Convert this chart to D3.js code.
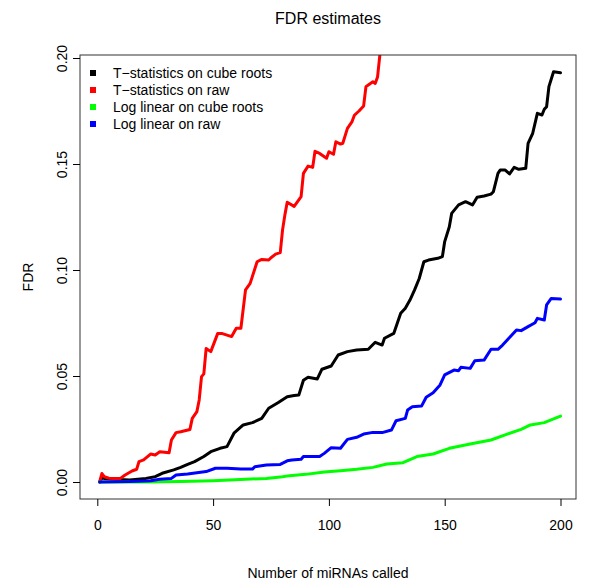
<!DOCTYPE html>
<html>
<head>
<meta charset="utf-8">
<script src="https://cdn.jsdelivr.net/npm/d3@7"></script>
<style>
  html, body { margin: 0; padding: 0; background: #fff; }
  svg text { font-family: "Liberation Sans", Arial, Helvetica, sans-serif; fill: #000; }
</style>
</head>
<body>
<svg id="chart" width="600" height="582"></svg>
<script>
// ---- data ----
const seriesNames = ["T\u2212statistics on cube roots", "T\u2212statistics on raw", "Log linear on cube roots", "Log linear on raw"];
const seriesColors = ["#000000", "#ff0000", "#00ff00", "#0000ff"];

const tCubeX = [1,2,3,7,14,21,25,28,33,36,39,42,46,49,53,56,59,63,67,71,74,78,82,85,87,89,91,95,97,101,104,108,112,117,120,123,124,128,131,133,135,137,139,141,143,147,149,150,152,153,156,159,162,164,167,170,171,173,174,176,178,180,182,185,186,188,190,192,193,194,195,197,200];
const tCubeY = [0,0.002,0.0017,0.0013,0.0009,0.0017,0.0025,0.0041,0.0057,0.0069,0.0083,0.0096,0.012,0.0143,0.0159,0.0167,0.023,0.0269,0.028,0.030,0.0348,0.0374,0.0402,0.0408,0.041,0.048,0.0494,0.0486,0.0532,0.0547,0.0599,0.0615,0.0623,0.0626,0.0659,0.0646,0.0678,0.0701,0.0796,0.082,0.0858,0.0906,0.096,0.1039,0.1047,0.1055,0.1063,0.1134,0.1204,0.1267,0.1307,0.1322,0.1307,0.1343,0.1349,0.1358,0.1369,0.1456,0.1472,0.1472,0.1453,0.1484,0.1475,0.148,0.1597,0.1645,0.1739,0.1731,0.1758,0.177,0.1865,0.1935,0.193];

const tRawX = [1,2,3,5,7,10,12,15,17,18,20,23,25,27,31,32,34,36,40,41,43,44,45,46,47,49,52,54,58,60,62,64,66,69,71,74,75,77,79,80,81,82,85,88,89,91,93,94,96,99,100,102,103,105,106,108,110,111,113,115,116,117,119,120,121,122,124,126];
const tRawY = [0,0.004,0.0025,0.0018,0.0017,0.0017,0.0033,0.0052,0.006,0.0096,0.0104,0.0132,0.0127,0.0143,0.0138,0.0198,0.0233,0.0237,0.0248,0.030,0.0332,0.0387,0.0497,0.051,0.063,0.0615,0.0701,0.070,0.0686,0.0725,0.0725,0.0906,0.0937,0.1039,0.105,0.1047,0.1058,0.1075,0.1082,0.119,0.126,0.132,0.130,0.1346,0.1456,0.149,0.1484,0.156,0.155,0.1527,0.1558,0.1546,0.1605,0.1594,0.1598,0.1668,0.170,0.173,0.175,0.1774,0.1865,0.1873,0.1888,0.188,0.191,0.2014,0.208,0.212];

const llCubeX = [1,21,36,50,64,73,80,83,90,98,105,112,119,125,132,138,145,152,161,170,177,183,187,193,200];
const llCubeY = [0,0,0.0002,0.0006,0.0013,0.0017,0.0025,0.003,0.0036,0.0047,0.0053,0.006,0.0069,0.0085,0.0091,0.012,0.0132,0.0159,0.0179,0.0198,0.0226,0.0248,0.0269,0.028,0.0311];

const llRawX = [1,14,23,27,32,34,39,43,47,51,56,62,67,68,73,79,82,84,88,89,96,98,101,105,108,112,115,119,123,127,129,133,134,136,140,142,145,148,150,154,156,157,161,163,167,170,173,175,178,181,183,186,189,190,193,194,196,200];
const llRawY = [0,0.0002,0.0006,0.0013,0.0017,0.0033,0.0038,0.0044,0.0049,0.0065,0.0065,0.0061,0.0061,0.0072,0.008,0.0083,0.010,0.0104,0.0107,0.012,0.012,0.0135,0.0162,0.0159,0.0201,0.0211,0.0226,0.0234,0.0233,0.0245,0.0289,0.030,0.034,0.0355,0.0358,0.040,0.0421,0.0458,0.0505,0.0528,0.0525,0.0541,0.0536,0.0572,0.0575,0.0626,0.0626,0.0646,0.0682,0.0717,0.0714,0.0733,0.0751,0.0772,0.0764,0.0835,0.0866,0.0863];

const xTicks = [0, 50, 100, 150, 200];
const yTicks = [0.00, 0.05, 0.10, 0.15, 0.20];
const yTickLabels = ["0.00", "0.05", "0.10", "0.15", "0.20"];

// ---- layout ----
const box = { left: 80, right: 576, top: 55, bottom: 499 };
const x = d3.scaleLinear().domain([0, 200]).range([97.3, 560.5]);
const y = d3.scaleLinear().domain([0, 0.2]).range([482, 58]);

const svg = d3.select("#chart");

svg.append("defs").append("clipPath").attr("id", "plotclip")
  .append("rect").attr("x", box.left).attr("y", box.top)
  .attr("width", box.right - box.left).attr("height", box.bottom - box.top);

const series = [
  { xs: tCubeX, ys: tCubeY },
  { xs: tRawX, ys: tRawY },
  { xs: llCubeX, ys: llCubeY },
  { xs: llRawX, ys: llRawY }
];

const line = d3.line().x(d => x(d[0])).y(d => y(d[1]));
const g = svg.append("g").attr("clip-path", "url(#plotclip)");
series.forEach((s, i) => {
  const pts = s.xs.map((v, k) => [v, s.ys[k]]);
  g.append("path").datum(pts)
    .attr("d", line)
    .attr("fill", "none")
    .attr("stroke", seriesColors[i])
    .attr("stroke-width", 3)
    .attr("stroke-linejoin", "round")
    .attr("stroke-linecap", "round");
});

// box
svg.append("rect")
  .attr("x", box.left).attr("y", box.top)
  .attr("width", box.right - box.left).attr("height", box.bottom - box.top)
  .attr("fill", "none").attr("stroke", "#333").attr("stroke-width", 1);

// x axis
const xAxis = svg.append("g").attr("transform", `translate(0,${box.bottom})`)
  .call(d3.axisBottom(x).tickValues(xTicks).tickSize(7).tickPadding(14).tickFormat(d3.format("d")));
xAxis.select(".domain").remove();
xAxis.selectAll("text").attr("font-size", 14).attr("font-family", "Liberation Sans, Arial, sans-serif");
xAxis.selectAll("line").attr("stroke", "#000");

// y axis
const yAxis = svg.append("g").attr("transform", `translate(${box.left},0)`)
  .call(d3.axisLeft(y).tickValues(yTicks).tickSize(7).tickFormat((d, i) => yTickLabels[i]));
yAxis.select(".domain").remove();
yAxis.selectAll("line").attr("stroke", "#000");
yAxis.selectAll("text")
  .attr("font-size", 14).attr("font-family", "Liberation Sans, Arial, sans-serif")
  .attr("x", null).attr("dy", null)
  .attr("text-anchor", "middle")
  .attr("transform", "translate(-13,0) rotate(-90)");

// titles
svg.append("text").attr("x", 328).attr("y", 24).attr("text-anchor", "middle")
  .attr("font-size", 16).text("FDR estimates");
svg.append("text").attr("x", 328).attr("y", 578).attr("text-anchor", "middle")
  .attr("font-size", 14).text("Number of miRNAs called");
svg.append("text").attr("transform", "translate(33,277) rotate(-90)").attr("text-anchor", "middle")
  .attr("font-size", 14).text("FDR");

// legend
const leg = svg.append("g");
seriesNames.forEach((name, i) => {
  const yy = 73 + i * 17;
  leg.append("rect").attr("x", 90).attr("y", yy - 3).attr("width", 6).attr("height", 6).attr("fill", seriesColors[i]);
  leg.append("text").attr("x", 113).attr("y", yy + 5).attr("font-size", 14).text(name);
});
</script>
</body>
</html>
